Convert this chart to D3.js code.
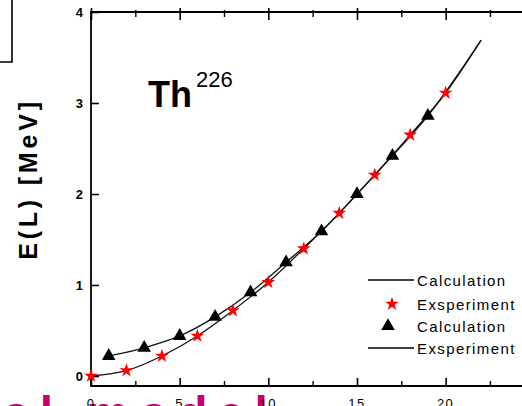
<!DOCTYPE html>
<html>
<head>
<meta charset="utf-8">
<script src="https://cdn.jsdelivr.net/npm/d3@7"></script>
<style>
  html, body { margin: 0; padding: 0; background: #fff; overflow: hidden; }
  text { font-family: "Liberation Sans", Arial, sans-serif; }
</style>
</head>
<body>
<div id="chart"></div>
<script>
"use strict";

// spin values, experiment at even L, calculation at odd L
var expL = [0, 2, 4, 6, 8, 10, 12, 14, 16, 18, 20],
    expE = [0.0, 0.06, 0.22, 0.44, 0.72, 1.03, 1.40, 1.79, 2.21, 2.65, 3.11];
var calcL = [1, 3, 5, 7, 9, 11, 13, 15, 17, 19],
    calcE = [0.22, 0.31, 0.44, 0.65, 0.92, 1.25, 1.59, 2.00, 2.42, 2.86];

// the drawn curves run on past the last marker
var expLineL = [0, 2, 4, 6, 8, 10, 12, 14, 16, 18, 20, 22],
    expLineE = [0.0, 0.06, 0.22, 0.44, 0.72, 1.03, 1.40, 1.79, 2.21, 2.65, 3.11, 3.69];
var calcLineL = [1, 3, 5, 7, 9, 11, 13, 15, 17, 19, 22],
    calcLineE = [0.22, 0.31, 0.44, 0.65, 0.92, 1.25, 1.59, 2.00, 2.42, 2.86, 3.69];

var xTicks = [0, 5, 10, 15, 20],
    xMinor = [2.5, 7.5, 12.5, 17.5, 22.5],
    yTicks = [0, 1, 2, 3, 4];

var legendLabels = ["Calculation", "Exsperiment", "Calculation", "Exsperiment"];

var App = App || {};

(function() {

    App.start = function() {
        var W = 522, H = 406;

        var x = d3.scaleLinear().domain([0, 25]).range([91, 534.3]),
            y = d3.scaleLinear().domain([-0.11, 4]).range([386, 12]);

        var svg = d3.select("#chart")
            .append("svg")
            .attr("width", W)
            .attr("height", H);

        // slide text running under the chart, only its top shows
        svg.append("text")
            .attr("x", 3)
            .attr("y", 430)
            .attr("font-family", "'Liberation Serif', 'DejaVu Serif', serif")
            .attr("font-size", 48)
            .attr("font-weight", "bold")
            .attr("letter-spacing", 10)
            .attr("fill", "#c8006e")
            .text("al model");

        // bit of a box cut off at the top left
        svg.append("path")
            .attr("d", "M-2,62 H12 V-2")
            .attr("fill", "none")
            .attr("stroke", "#000")
            .attr("stroke-width", 1.6);

        // frame
        svg.append("path")
            .attr("d", "M" + W + "," + y(4) + " H" + x(0) + " V" + y.range()[0] + " H" + W)
            .attr("fill", "none")
            .attr("stroke", "#000")
            .attr("stroke-width", 1.8);

        // bottom axis, inward ticks
        var axis_x = d3.axisTop(x).tickValues(xTicks).tickSize(8).tickFormat("");
        svg.append("g")
            .attr("id", "axis_x")
            .attr("transform", "translate(0," + y.range()[0] + ")")
            .call(axis_x)
            .call(g => g.select(".domain").remove())
            .call(g => g.selectAll("line").attr("stroke-width", 1.6));
        svg.append("g")
            .attr("transform", "translate(0," + y.range()[0] + ")")
            .call(d3.axisTop(x).tickValues(xMinor).tickSize(5).tickFormat(""))
            .call(g => g.select(".domain").remove())
            .call(g => g.selectAll("line").attr("stroke-width", 1.4));

        // labels under the axis, mostly cut off by the window
        svg.append("g").selectAll("text")
            .data(xTicks)
            .enter()
            .append("text")
            .attr("x", d => x(d))
            .attr("y", 408)
            .attr("text-anchor", "middle")
            .attr("font-size", 13)
            .attr("letter-spacing", 1.5)
            .text(d => d);

        // top axis ticks
        svg.append("g")
            .attr("transform", "translate(0," + (y(4) - 4) + ")")
            .call(d3.axisBottom(x).tickValues(xTicks).tickSize(12).tickFormat(""))
            .call(g => g.select(".domain").remove())
            .call(g => g.selectAll("line").attr("stroke-width", 1.6));
        svg.append("g")
            .attr("transform", "translate(0," + (y(4) - 2) + ")")
            .call(d3.axisBottom(x).tickValues(xMinor).tickSize(7).tickFormat(""))
            .call(g => g.select(".domain").remove())
            .call(g => g.selectAll("line").attr("stroke-width", 1.4));

        // y axis
        var axis_y = d3.axisRight(y).tickValues(yTicks).tickSize(8).tickFormat("");
        svg.append("g")
            .attr("id", "axis_y")
            .attr("transform", "translate(" + x(0) + ",0)")
            .call(axis_y)
            .call(g => g.select(".domain").remove())
            .call(g => g.selectAll("line").attr("stroke-width", 1.6));

        svg.append("g").selectAll("text")
            .data(yTicks)
            .enter()
            .append("text")
            .attr("x", 83)
            .attr("y", d => y(d) + 5)
            .attr("text-anchor", "end")
            .attr("font-size", 13)
            .attr("font-weight", "bold")
            .text(d => d);

        svg.append("text")
            .attr("transform", "translate(37,179) rotate(-90)")
            .attr("text-anchor", "middle")
            .attr("font-size", 25)
            .attr("font-weight", "bold")
            .attr("letter-spacing", 3.8)
            .text("E(L) [MeV]");

        // nucleus label
        var th = svg.append("text")
            .attr("x", 148)
            .attr("y", 107);
        th.append("tspan")
            .attr("font-size", 36)
            .attr("font-weight", "bold")
            .text("Th");
        th.append("tspan")
            .attr("font-size", 22)
            .attr("dy", -20)
            .attr("dx", 4)
            .text("226");

        // curves
        var line = d3.line()
            .x(d => x(d[0]))
            .y(d => y(d[1]))
            .curve(d3.curveMonotoneX);

        svg.append("path")
            .datum(d3.zip(expLineL, expLineE))
            .attr("d", line)
            .attr("fill", "none")
            .attr("stroke", "#111")
            .attr("stroke-width", 1.3);

        svg.append("path")
            .datum(d3.zip(calcLineL, calcLineE))
            .attr("d", line)
            .attr("fill", "none")
            .attr("stroke", "#111")
            .attr("stroke-width", 1.3);

        var star = d3.symbol().type(d3.symbolStar).size(60),
            tri = d3.symbol().type(d3.symbolTriangle).size(80);

        svg.append("g").selectAll("path")
            .data(d3.zip(calcL, calcE))
            .enter()
            .append("path")
            .attr("d", tri)
            .attr("transform", d => "translate(" + x(d[0]) + "," + y(d[1]) + ")")
            .attr("fill", "#000");

        svg.append("g").selectAll("path")
            .data(d3.zip(expL, expE))
            .enter()
            .append("path")
            .attr("d", star)
            .attr("transform", d => "translate(" + x(d[0]) + "," + y(d[1]) + ")")
            .attr("fill", "#ff0000");

        // legend
        var rows = [280, 304, 326, 348];
        var legend = svg.append("g").attr("id", "legend");

        legend.selectAll("text")
            .data(legendLabels)
            .enter()
            .append("text")
            .attr("x", 417)
            .attr("y", (d, i) => rows[i] + 5.5)
            .attr("font-size", 15)
            .attr("letter-spacing", 1.4)
            .text(d => d);

        [0, 3].forEach(i => {
            legend.append("line")
                .attr("x1", 368).attr("x2", 414)
                .attr("y1", rows[i]).attr("y2", rows[i])
                .attr("stroke", "#000")
                .attr("stroke-width", 1.4);
        });
        legend.append("path")
            .attr("d", star)
            .attr("transform", "translate(392," + rows[1] + ")")
            .attr("fill", "#ff0000");
        legend.append("path")
            .attr("d", tri)
            .attr("transform", "translate(388," + rows[2] + ")")
            .attr("fill", "#000");
    };
})();

App.start();
</script>
</body>
</html>
